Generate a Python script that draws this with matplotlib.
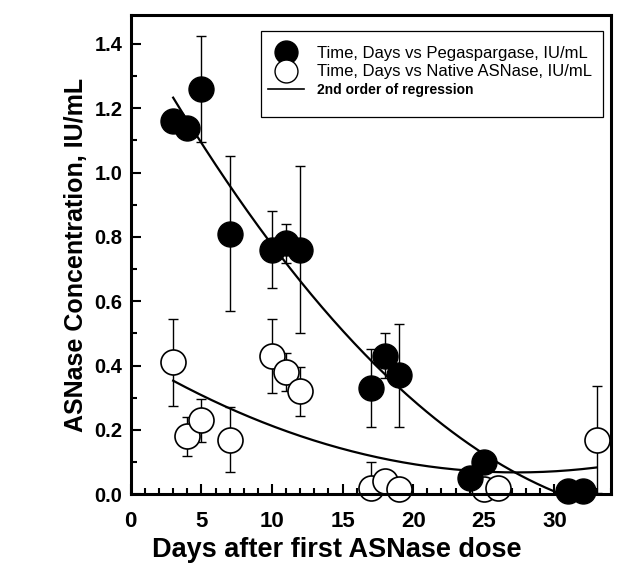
import numpy as np
import matplotlib
matplotlib.use("Agg")
import matplotlib.pyplot as plt
from matplotlib.lines import Line2D
from matplotlib.patches import Rectangle
from matplotlib.ticker import MultipleLocator

plt.rcParams['font.family'] = ['Liberation Sans', 'DejaVu Sans']

# pegaspargase (filled)
peg_days = [3, 4, 5, 7, 10, 11, 12, 17, 18, 19, 24, 25, 31, 32]
peg_conc = [1.16, 1.14, 1.26, 0.81, 0.76, 0.78, 0.76, 0.33, 0.43, 0.37, 0.05, 0.10, 0.01, 0.01]
peg_err = [0.0, 0.0, 0.165, 0.24, 0.12, 0.06, 0.26, 0.12, 0.07, 0.16, 0.0, 0.0, 0.0, 0.0]

# native ASNase (open)
nat_days = [3, 4, 5, 7, 10, 11, 12, 17, 18, 19, 25, 26, 33]
nat_conc = [0.41, 0.18, 0.23, 0.17, 0.43, 0.38, 0.32, 0.02, 0.04, 0.015, 0.015, 0.02, 0.17]
nat_err = [0.135, 0.06, 0.067, 0.10, 0.115, 0.06, 0.077, 0.08, 0.0, 0.0, 0.0, 0.0, 0.165]

labels = ["Time, Days vs Pegaspargase, IU/mL",
          "Time, Days vs Native ASNase, IU/mL",
          "2nd order of regression"]

fig = plt.figure(figsize=(6.17, 5.74), dpi=100)
ax = fig.add_axes([0.212, 0.139, 0.778, 0.835])

ax.errorbar(peg_days, peg_conc, yerr=peg_err, fmt='none', ecolor='black',
            elinewidth=1, capsize=3.6, capthick=1, zorder=1)
ax.errorbar(nat_days, nat_conc, yerr=nat_err, fmt='none', ecolor='black',
            elinewidth=1, capsize=3.6, capthick=1, zorder=1)

ax.plot(nat_days, nat_conc, 'o', ms=18, mfc='white', mec='black', mew=1.2,
        ls='none', zorder=2, clip_on=False)
ax.plot(peg_days, peg_conc, 'o', ms=18, mfc='black', mec='black',
        ls='none', zorder=3, clip_on=False)

# 2nd order regression fits
xfit = np.linspace(3, 33, 200)
pc = np.polyfit(peg_days, peg_conc, 2)
nc = np.polyfit(nat_days, nat_conc, 2)
ax.plot(xfit, np.polyval(pc, xfit), color='black', lw=1.6, zorder=4)
ax.plot(xfit, np.polyval(nc, xfit), color='black', lw=1.6, zorder=4)

ax.set_xlim(0, 34)
ax.set_ylim(0, 1.49)
ax.xaxis.set_major_locator(MultipleLocator(5))
ax.xaxis.set_minor_locator(MultipleLocator(1))
ax.yaxis.set_major_locator(MultipleLocator(0.2))
ax.yaxis.set_minor_locator(MultipleLocator(0.1))
ax.yaxis.set_major_formatter(matplotlib.ticker.FormatStrFormatter('%.1f'))
ax.tick_params(which='both', direction='in', width=1.5)
ax.tick_params(which='major', length=7)
ax.tick_params(which='minor', length=4)
ax.tick_params(axis='x', which='major', labelsize=16, pad=12)
ax.tick_params(axis='y', which='major', labelsize=14.5, pad=6)
for t in ax.get_xticklabels() + ax.get_yticklabels():
    t.set_fontweight('bold')
for s in ax.spines.values():
    s.set_linewidth(2.2)

ax.set_xlabel("Days after first ASNase dose", fontsize=19.5, fontweight='bold')
ax.xaxis.set_label_coords(0.43, -0.09)
ax.set_ylabel("ASNase Concentration, IU/mL", fontsize=18, fontweight='bold', labelpad=5)

# legend: SigmaPlot style box, drawn separately for its uneven padding
handles = [Line2D([], [], marker='o', ls='none', ms=16.5, mfc='black', mec='black'),
           Line2D([], [], marker='o', ls='none', ms=16.5, mfc='white', mec='black', mew=1),
           Line2D([], [], color='black', lw=1.2)]
leg = ax.legend(handles, labels, loc='upper left', bbox_to_anchor=(0.285, 0.935),
                borderaxespad=0, borderpad=0, fontsize=12, frameon=False,
                handlelength=2.2, labelspacing=0.2, handletextpad=0.75)
leg.get_texts()[2].set_fontweight('bold')
leg.get_texts()[2].set_fontsize(10)
ax.add_patch(Rectangle((0.272, 0.788), 0.711, 0.179, transform=ax.transAxes,
                       fill=False, edgecolor='black', lw=0.9, zorder=5))

fig.savefig("out.png", dpi=100)
